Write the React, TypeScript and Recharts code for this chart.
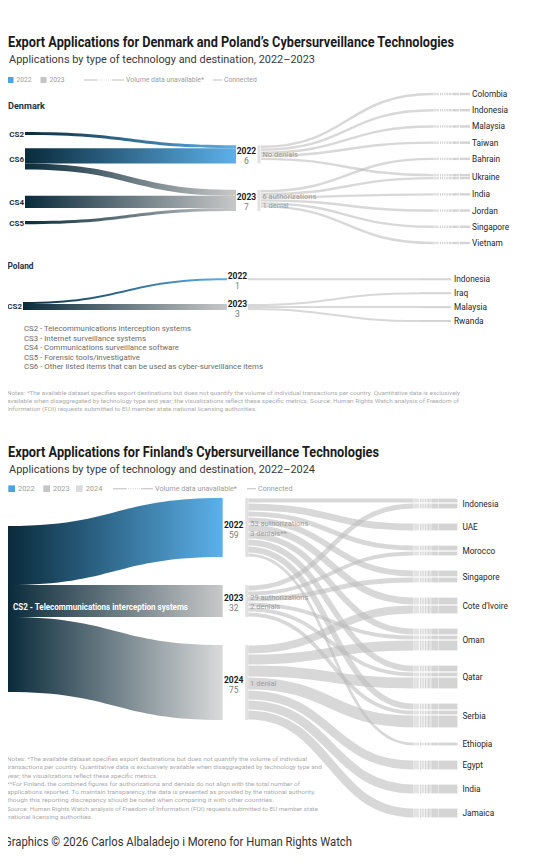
import React from "react";
import { Sankey } from "recharts";

const FONT = "Roboto, 'Noto Sans', sans-serif";
const NAVY = "#0a2b3b";
const YEAR_COLORS: Record<string, string> = { "2022": "#5cb0ea", "2023": "#c8c8c8", "2024": "#dadada" };
const SWATCH_COLORS: Record<string, string> = { "2022": "#4da3e2", "2023": "#c6c6c6", "2024": "#dcdcdc" };

// ---- Denmark ----
const DK_TECH = ["CS2", "CS6", "CS4", "CS5"];
const DK_YEARS = ["2022", "2023"];
const DK_COUNTRIES = ["Colombia", "Indonesia", "Malaysia", "Taiwan", "Bahrain", "Ukraine", "India", "Jordan", "Singapore", "Vietnam"];
const DK_TECH_LINKS: [string, string, number][] = [
  ["CS2", "2022", 1],
  ["CS6", "2022", 5],
  ["CS6", "2023", 2],
  ["CS4", "2023", 4],
  ["CS5", "2023", 1],
];
// destinations have no volume, each one is drawn with a single unit
const DK_DEST_2022 = ["Colombia", "Indonesia", "Malaysia", "Taiwan", "Ukraine"];
const DK_DEST_2023 = ["Bahrain", "Ukraine", "India", "Jordan", "Singapore", "Vietnam"];
const DK_DEST_UNIT = 1;
const DK_NOTES: Record<string, string[]> = { "2022": ["No denials"], "2023": ["6 authorizations", "1 denial"] };

// ---- Poland ----
const PL_TECH = ["CS2"];
const PL_YEARS = ["2022", "2023"];
const PL_COUNTRIES = ["Indonesia", "Iraq", "Malaysia", "Rwanda"];
const PL_TECH_LINKS: [string, string, number][] = [
  ["CS2", "2022", 1],
  ["CS2", "2023", 3],
];
const PL_DEST_2022 = ["Indonesia"];
const PL_DEST_2023 = ["Iraq", "Malaysia", "Rwanda"];
const PL_DEST_UNIT = 1;

// ---- Finland ----
const FI_TECH = ["CS2"];
const FI_TECH_LABELS: Record<string, string> = { CS2: "CS2 - Telecommunications interception systems" };
const FI_YEARS = ["2022", "2023", "2024"];
const FI_COUNTRIES = ["Indonesia", "UAE", "Morocco", "Singapore", "Cote d'Ivoire", "Oman", "Qatar", "Serbia", "Ethiopia", "Egypt", "India", "Jamaica"];
const FI_TECH_LINKS: [string, string, number][] = [
  ["CS2", "2022", 59],
  ["CS2", "2023", 32],
  ["CS2", "2024", 75],
];
const FI_DEST_2022: [string, number][] = [
  ["Indonesia", 5], ["UAE", 8], ["Morocco", 6], ["Singapore", 7], ["Cote d'Ivoire", 8],
  ["Oman", 7], ["Qatar", 7], ["Serbia", 7], ["Ethiopia", 4],
];
const FI_DEST_2023: [string, number][] = [
  ["Indonesia", 6], ["Morocco", 5], ["Singapore", 6], ["Oman", 5], ["Qatar", 5], ["Serbia", 5],
];
const FI_DEST_2024: [string, number][] = [
  ["Cote d'Ivoire", 9], ["Oman", 11], ["Qatar", 12], ["Serbia", 13], ["Egypt", 10], ["India", 10], ["Jamaica", 10],
];
const FI_NOTES: Record<string, string[]> = {
  "2022": ["53 authorizations", "3 denials**"],
  "2023": ["29 authorizations", "2 denials"],
  "2024": ["1 denial"],
};

// empty padding slots placed above each node of a column (layout only)
const DK_TECH_SLOTS = [3, 0, 1, 0];
const DK_YEAR_SLOTS = [4, 1];
const PL_TECH_SLOTS = [2];
const PL_YEAR_SLOTS = [0, 1];
const FI_TECH_SLOTS = [2];
const FI_YEAR_SLOTS = [0, 1, 1];

const CS_GLOSSARY = [
  "CS2 - Telecommunications interception systems",
  "CS3 - Internet surveillance systems",
  "CS4 - Communications surveillance software",
  "CS5 - Forensic tools/investigative",
  "CS6 - Other listed items that can be used as cyber-surveillance items",
];
const CS_GLOSSARY_W = [167, 122, 155, 116, 239];

const DK_FOOTNOTES = [
  "Notes: *The available dataset specifies export destinations but does not quantify the volume of individual transactions per country. Quantitative data is exclusively",
  "available when disaggregated by technology type and year; the visualizations reflect these specific metrics. Source: Human Rights Watch analysis of Freedom of",
  "Information (FOI) requests submitted to EU member state national licensing authorities.",
];
const DK_FOOTNOTES_W = [453, 452, 250];

const FI_FOOTNOTES = [
  "Notes: *The available dataset specifies export destinations but does not quantify the volume of individual",
  "transactions per country. Quantitative data is exclusively available when disaggregated by technology type and",
  "year; the visualizations reflect these specific metrics.",
  "**For Finland, the combined figures for authorizations and denials do not align with the total number of",
  "applications reported. To maintain transparency, the data is presented as provided by the national authority,",
  "though this reporting discrepancy should be noted when comparing it with other countries.",
  "Source: Human Rights Watch analysis of Freedom of Information (FOI) requests submitted to EU member state",
  "national licensing authorities.",
];
const FI_FOOTNOTES_W = [300, 315, 151, 293, 308, 267, 311, 86];

type Kind = "tech" | "year" | "dest" | "gap";
type FlowNode = { name: string; kind: Kind; level?: number; label?: string; notes?: string[] };
type FlowLink = { source: number; target: number; value: number };

function buildData(
  tech: string[],
  techSlots: number[],
  years: string[],
  yearSlots: number[],
  countries: string[],
  techLinks: [string, string, number][],
  destLinks: [string, string, number][],
  notes: Record<string, string[]>,
  techLabels: Record<string, string> = {},
) {
  const nodes: FlowNode[] = [];
  tech.forEach((name, i) => {
    for (let k = 0; k < techSlots[i]; k++) nodes.push({ name: `t-gap-${i}-${k}`, kind: "gap", level: 0 });
    nodes.push({ name, kind: "tech", label: techLabels[name] ?? name });
  });
  years.forEach((name, i) => {
    for (let k = 0; k < yearSlots[i]; k++) nodes.push({ name: `y-gap-${i}-${k}`, kind: "gap", level: 1 });
    nodes.push({ name, kind: "year", notes: notes[name] ?? [] });
  });
  countries.forEach((name) => nodes.push({ name, kind: "dest" }));

  const at = (kind: Kind, name: string) => nodes.findIndex((n) => n.kind === kind && n.name === name);
  const links: FlowLink[] = [
    ...techLinks.map(([s, t, value]) => ({ source: at("tech", s), target: at("year", t), value })),
    ...destLinks.map(([s, t, value]) => ({ source: at("year", s), target: at("dest", t), value })),
  ];
  // zero-value links keep the padding slots in their column
  const firstTech = at("tech", tech[0]);
  const firstYear = at("year", years[0]);
  const firstDest = at("dest", countries[0]);
  nodes.forEach((n, i) => {
    if (n.kind !== "gap") return;
    if (n.level === 0) links.push({ source: i, target: firstYear, value: 0 });
    else {
      links.push({ source: firstTech, target: i, value: 0 });
      links.push({ source: i, target: firstDest, value: 0 });
    }
  });
  return { nodes, links };
}

const dkData = buildData(
  DK_TECH,
  DK_TECH_SLOTS,
  DK_YEARS,
  DK_YEAR_SLOTS,
  DK_COUNTRIES,
  DK_TECH_LINKS,
  [
    ...DK_DEST_2022.map((c) => ["2022", c, DK_DEST_UNIT] as [string, string, number]),
    ...DK_DEST_2023.map((c) => ["2023", c, DK_DEST_UNIT] as [string, string, number]),
  ],
  DK_NOTES,
);

const plData = buildData(
  PL_TECH,
  PL_TECH_SLOTS,
  PL_YEARS,
  PL_YEAR_SLOTS,
  PL_COUNTRIES,
  PL_TECH_LINKS,
  [
    ...PL_DEST_2022.map((c) => ["2022", c, PL_DEST_UNIT] as [string, string, number]),
    ...PL_DEST_2023.map((c) => ["2023", c, PL_DEST_UNIT] as [string, string, number]),
  ],
  {},
);

const fiData = buildData(
  FI_TECH,
  FI_TECH_SLOTS,
  FI_YEARS,
  FI_YEAR_SLOTS,
  FI_COUNTRIES,
  FI_TECH_LINKS,
  [
    ...FI_DEST_2022.map(([c, v]) => ["2022", c, v] as [string, string, number]),
    ...FI_DEST_2023.map(([c, v]) => ["2023", c, v] as [string, string, number]),
    ...FI_DEST_2024.map(([c, v]) => ["2024", c, v] as [string, string, number]),
  ],
  FI_NOTES,
  FI_TECH_LABELS,
);

type FlowStyle = {
  id: string;
  nodeWidth: number;
  techLabel: "side" | "inside";
  yearBar: boolean;
  linkStart: number; // where destination links leave the year node
  curveEnd: number; // offsets from the destination node's x
  stripeEnd: number;
  solidEnd: number;
  labelOffset: number;
  linkGap: number;
};

// dotted "volume unavailable" run before each destination bar
const STRIPES = [0.26, 0.33, 0.4, 0.47, 0.53, 0.59, 0.64, 0.69, 0.74, 0.78, 0.82, 0.86, 0.9, 0.94];

function makeNode(st: FlowStyle) {
  return (props: any) => {
    const { x, y, width, height, payload } = props;
    const cy = y + height / 2;
    if (payload.kind === "gap") return <g />;
    if (payload.kind === "tech") {
      if (st.techLabel === "inside") {
        return (
          <text x={x + 5} y={cy + 1} fill="#ffffff" fontWeight={700} fontSize={8.5} textLength={175} lengthAdjust="spacingAndGlyphs">
            {payload.label}
          </text>
        );
      }
      return (
        <text x={x - 1} y={cy + 3} textAnchor="end" fill="#1b3142" fontWeight={700} fontSize={8}>
          {payload.name}
        </text>
      );
    }
    if (payload.kind === "year") {
      const mid = x + width / 2;
      const right = x + width;
      const notes: string[] = payload.notes ?? [];
      return (
        <g>
          {st.yearBar && <rect x={right + 0.5} y={y} width={3} height={height} fill="#e1e1e1" />}
          <text x={mid} y={cy} textAnchor="middle" fontWeight={700} fontSize={8.5} fill="#1a1a1a">
            {payload.name}
          </text>
          <text x={mid} y={cy + 10} textAnchor="middle" fontSize={8.5} fill="#7c7c7c">
            {payload.value}
          </text>
          {notes.map((line, i) => (
            <text
              key={line}
              x={right + 5.5}
              y={notes.length === 1 ? cy + 3 : cy - 1.5 + i * 9.5}
              fontSize={7.5}
              fill="#9b9b9b"
            >
              {line}
            </text>
          ))}
        </g>
      );
    }
    return (
      <text x={x + st.labelOffset} y={cy + 3} fontSize={8.3} fill="#262626">
        {payload.name}
      </text>
    );
  };
}

function makeLink(st: FlowStyle, nodes: FlowNode[]) {
  return (props: any) => {
    const { sourceX, sourceY, targetX, targetY, linkWidth, payload, index } = props;
    if (!payload.value) return <g />;
    const src = typeof payload.source === "object" ? payload.source : nodes[payload.source];
    const tgt = typeof payload.target === "object" ? payload.target : nodes[payload.target];

    if (src.kind === "tech") {
      // filled band from the left edge of the technology node
      const x0 = sourceX - st.nodeWidth;
      const x1 = targetX;
      const xm = (x0 + x1) / 2;
      const h = linkWidth / 2;
      const d = `M${x0},${sourceY - h}C${xm},${sourceY - h} ${xm},${targetY - h} ${x1},${targetY - h}L${x1},${targetY + h}C${xm},${targetY + h} ${xm},${sourceY + h} ${x0},${sourceY + h}Z`;
      const gid = `${st.id}-band-${index}`;
      return (
        <g>
          <defs>
            <linearGradient id={gid} gradientUnits="userSpaceOnUse" x1={x0} x2={x1} y1={0} y2={0}>
              <stop offset="0" stopColor={NAVY} />
              <stop offset="1" stopColor={YEAR_COLORS[tgt.name]} />
            </linearGradient>
          </defs>
          <path d={d} fill={`url(#${gid})`} />
        </g>
      );
    }

    const w = Math.max(linkWidth - st.linkGap, 1);
    const x0 = sourceX + st.linkStart;
    const x1 = targetX + st.curveEnd;
    const xm = (x0 + x1) / 2;
    const d = `M${x0},${sourceY}C${xm},${sourceY} ${xm},${targetY} ${x1},${targetY}`;
    const runStart = targetX + st.curveEnd;
    const runLen = st.stripeEnd - st.curveEnd;
    return (
      <g>
        <path d={d} fill="none" stroke="#bcbcbc" strokeOpacity={0.58} strokeWidth={w} />
        {runLen > 0 && (
          <rect x={runStart} y={targetY - w / 2} width={runLen * 0.22} height={w} fill="#e2e2e2" />
        )}
        {runLen > 0 &&
          STRIPES.map((f) => (
            <rect key={f} x={runStart + f * runLen} y={targetY - w / 2} width={0.9} height={w} fill="#cdcdcd" />
          ))}
        <rect
          x={targetX + st.stripeEnd}
          y={targetY - w / 2}
          width={st.solidEnd - st.stripeEnd}
          height={w}
          fill="#d4d4d4"
        />
      </g>
    );
  };
}

const DK_STYLE: FlowStyle = {
  id: "dk", nodeWidth: 21, techLabel: "side", yearBar: true,
  linkStart: 4, curveEnd: -14, stripeEnd: 13, solidEnd: 23, labelOffset: 25, linkGap: 0.6,
};
const PL_STYLE: FlowStyle = {
  id: "pl", nodeWidth: 21, techLabel: "side", yearBar: false,
  linkStart: 0, curveEnd: -10, stripeEnd: -10, solidEnd: 20, labelOffset: 23, linkGap: 0,
};
const FI_STYLE: FlowStyle = {
  id: "fi", nodeWidth: 22, techLabel: "inside", yearBar: true,
  linkStart: 3.5, curveEnd: -24, stripeEnd: 1, solidEnd: 20, labelOffset: 25, linkGap: 1.2,
};

function FlowChart(props: {
  data: { nodes: FlowNode[]; links: FlowLink[] };
  st: FlowStyle;
  top: number;
  height: number;
  margin: { top: number; right: number; bottom: number; left: number };
  padding: number;
}) {
  const { data, st, top, height, margin, padding } = props;
  return (
    <div style={{ position: "absolute", left: 0, top }}>
      <Sankey
        width={544}
        height={height}
        data={data}
        margin={margin}
        nodeWidth={st.nodeWidth}
        nodePadding={padding}
        iterations={0}
        sort={false}
        node={makeNode(st)}
        link={makeLink(st, data.nodes)}
      />
    </div>
  );
}

function FitText(props: { x: number; y: number; w: number; size: number; fill: string; bold?: boolean; children: string }) {
  const { x, y, w, size, fill, bold, children } = props;
  return (
    <text x={x} y={y} fontSize={size} fill={fill} fontWeight={bold ? 700 : 400} textLength={w} lengthAdjust="spacingAndGlyphs">
      {children}
    </text>
  );
}

function LegendRow(props: { y: number; years: string[]; swatchX: number[]; size: number; lineX: number; volX: number; volW: number; connX: number }) {
  const { y, years, swatchX, size, lineX, volX, volW, connX } = props;
  const s = size;
  return (
    <g>
      {years.map((yr, i) => (
        <g key={yr}>
          <rect x={swatchX[i]} y={y - s / 2} width={s} height={s} fill={SWATCH_COLORS[yr]} />
          <FitText x={swatchX[i] + s + 3} y={y + 2.4} w={s * 2.5} size={6.8} fill="#9c9c9c">
            {yr}
          </FitText>
        </g>
      ))}
      <line x1={lineX} x2={lineX + 13} y1={y} y2={y} stroke="#c9c9c9" strokeWidth={1.2} />
      <line x1={lineX + 13} x2={lineX + 28} y1={y} y2={y} stroke="#d2d2d2" strokeWidth={1.2} strokeDasharray="0.8 1.4" />
      <line x1={lineX + 28} x2={lineX + 40} y1={y} y2={y} stroke="#c9c9c9" strokeWidth={1.2} />
      <FitText x={volX} y={y + 2.4} w={volW} size={6.8} fill="#9c9c9c">
        Volume data unavailable*
      </FitText>
      <line x1={connX} x2={connX + 9} y1={y} y2={y} stroke="#c9c9c9" strokeWidth={1.2} />
      <FitText x={connX + 11} y={y + 2.4} w={volW * 0.42} size={6.8} fill="#9c9c9c">
        Connected
      </FitText>
    </g>
  );
}

export default function App() {
  return (
    <div style={{ position: "relative", width: 544, height: 862, margin: -8, fontFamily: FONT, background: "#ffffff" }}>
      <svg width={544} height={862} style={{ position: "absolute", left: 0, top: 0 }}>
        <FitText x={8} y={47} w={446} size={14} fill="#1b1b1b" bold>
          Export Applications for Denmark and Poland’s Cybersurveillance Technologies
        </FitText>
        <FitText x={9} y={63} w={306} size={11.5} fill="#3a3a3a">
          Applications by type of technology and destination, 2022–2023
        </FitText>
        <LegendRow y={80} years={DK_YEARS} swatchX={[7.5, 40.5]} size={6} lineX={84} volX={126} volW={78} connX={213} />
        <FitText x={8} y={108.5} w={37} size={8.5} fill="#1e3346" bold>
          Denmark
        </FitText>
        <FitText x={7.5} y={269} w={26} size={8.5} fill="#1e3346" bold>
          Poland
        </FitText>
        {CS_GLOSSARY.map((line, i) => (
          <FitText key={line} x={24} y={331 + i * 9.5} w={CS_GLOSSARY_W[i]} size={8} fill="#6b6b6b">
            {line}
          </FitText>
        ))}
        {DK_FOOTNOTES.map((line, i) => (
          <FitText key={line} x={7} y={394.7 + i * 8.1} w={DK_FOOTNOTES_W[i]} size={6} fill="#ababab">
            {line}
          </FitText>
        ))}

        <FitText x={8} y={457} w={371} size={14} fill="#1b1b1b" bold>
          Export Applications for Finland's Cybersurveillance Technologies
        </FitText>
        <FitText x={9} y={473} w={306} size={11.5} fill="#3a3a3a">
          Applications by type of technology and destination, 2022–2024
        </FitText>
        <LegendRow y={488.7} years={FI_YEARS} swatchX={[8.3, 43.3, 76]} size={6.7} lineX={113} volX={155} volW={82} connX={247} />
        {FI_FOOTNOTES.map((line, i) => (
          <FitText key={line} x={7} y={761 + i * 8.25} w={FI_FOOTNOTES_W[i]} size={6} fill="#ababab">
            {line}
          </FitText>
        ))}
        <FitText x={4} y={846} w={348} size={12.5} fill="#333333">
          Graphics © 2026 Carlos Albaladejo i Moreno for Human Rights Watch
        </FitText>
      </svg>

      <FlowChart data={dkData} st={DK_STYLE} top={84} height={170} margin={{ top: 8.5, right: 76, bottom: 9.5, left: 25 }} padding={13.2} />
      <FlowChart data={plData} st={PL_STYLE} top={270} height={62} margin={{ top: 8.3, right: 92, bottom: 10, left: 23 }} padding={11.9} />
      <FlowChart data={fiData} st={FI_STYLE} top={490} height={340} margin={{ top: 8, right: 84.6, bottom: 12, left: 8 }} padding={14} />
    </div>
  );
}
